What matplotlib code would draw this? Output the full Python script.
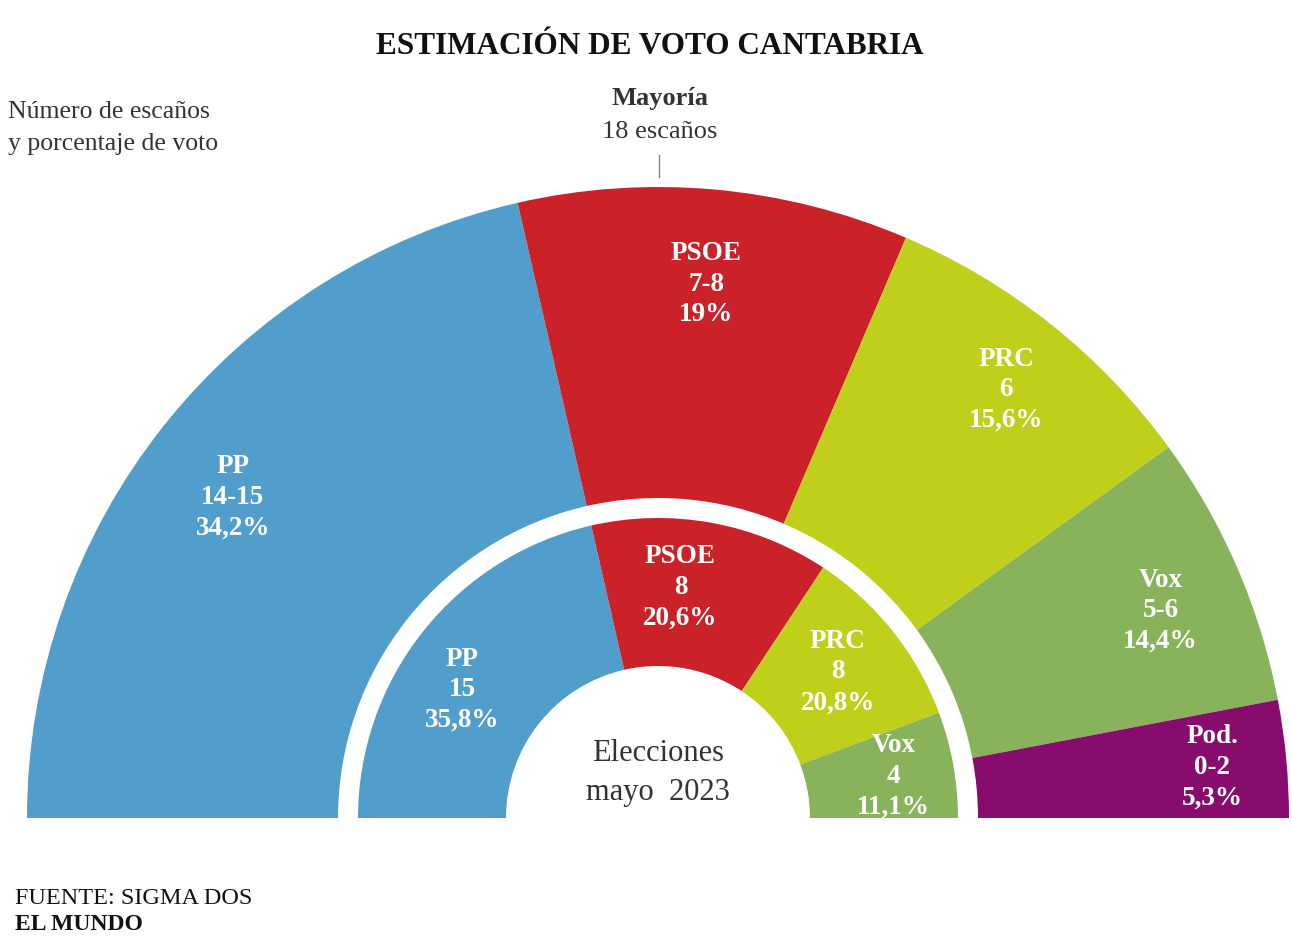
import numpy as np
import matplotlib
matplotlib.use("Agg")
import matplotlib.pyplot as plt
from matplotlib.patches import Wedge

# ---------------- data ----------------
outer_parties = ["PP", "PSOE", "PRC", "Vox", "Pod."]
outer_seats = ["14-15", "7-8", "6", "5-6", "0-2"]
outer_pct = ["34,2%", "19%", "15,6%", "14,4%", "5,3%"]
outer_arc = [15, 7, 6, 4.9, 2.1]          # arc share as drawn

inner_parties = ["PP", "PSOE", "PRC", "Vox"]
inner_seats = ["15", "8", "8", "4"]
inner_pct = ["35,8%", "20,6%", "20,8%", "11,1%"]
inner_arc = [15, 9, 7, 4]                  # arc share as drawn

colors = {"PP": "#519DCB", "PSOE": "#CB2229", "PRC": "#C0CF1A",
          "Vox": "#88B35A", "Pod.": "#870C6E"}

# ---------------- figure ----------------
W, H = 1292, 944
fig = plt.figure(figsize=(W / 100, H / 100), dpi=100)
ax = fig.add_axes([0, 0, 1, 1])
ax.set_xlim(0, W)
ax.set_ylim(0, H)
ax.axis("off")

SERIF = ["Liberation Serif", "DejaVu Serif"]
cx, cy = 658, H - 818

def ring(arcs, parties, seats, pct, r_out, r_in, lab_r, nudges):
    total = sum(arcs)
    start = 180.0
    for a, p, s, q, (nd, dr) in zip(arcs, parties, seats, pct, nudges):
        span = 180.0 * a / total
        t2, t1 = start, start - span
        ax.add_patch(Wedge((cx, cy), r_out, t1, t2, width=r_out - r_in,
                           facecolor=colors[p], edgecolor="none"))
        mid = np.deg2rad((t1 + t2) / 2 + nd)
        x = cx + (lab_r + dr) * np.cos(mid)
        y = cy + (lab_r + dr) * np.sin(mid) - 4
        ax.text(x, y, f"{p}\n{s}\n{q}", ha="center", va="center",
                color="white", fontsize=19.5, fontweight="bold",
                family=SERIF, linespacing=1.3)
        start = t1

ring(outer_arc, outer_parties, outer_seats, outer_pct, 631, 320, 545,
     [(1.2, -10), (0, -5), (-0.3, 10), (-0.6, 0), (0.2, 12)])
ring(inner_arc, inner_parties, inner_seats, inner_pct, 300, 152, 236,
     [(4.5, 0), (4.8, 0), (1.3, -2), (0.7, 4)])

# centre text
ax.text(cx, H - 773, "Elecciones\nmayo  2023", ha="center", va="center",
        fontsize=22, color="#333333", family=SERIF, linespacing=1.42)

# majority marker
ax.plot([cx + 1, cx + 1], [H - 155, H - 177], color="#888888", lw=1)
ax.text(cx + 2, H - 98, "Mayoría", ha="center", va="center",
        fontsize=19, fontweight="bold", color="#333333", family=SERIF)
ax.text(cx + 2, H - 132, "18 escaños", ha="center", va="center",
        fontsize=19, color="#333333", family=SERIF)

# title
ax.text(650, H - 46, "ESTIMACIÓN DE VOTO CANTABRIA", ha="center", va="center",
        fontsize=22.5, fontweight="bold", color="#111111", family=SERIF)

# subtitle
ax.text(8, H - 128, "Número de escaños\ny porcentaje de voto", ha="left",
        va="center", fontsize=18.5, color="#333333", family=SERIF,
        linespacing=1.55)

# source
ax.text(15, H - 898, "FUENTE: SIGMA DOS", ha="left", va="center",
        fontsize=17.5, color="#111111", family=SERIF)
ax.text(15, H - 924, "EL MUNDO", ha="left", va="center",
        fontsize=17, fontweight="bold", color="#111111", family=SERIF)

fig.savefig("out.png", dpi=100, facecolor="white")
